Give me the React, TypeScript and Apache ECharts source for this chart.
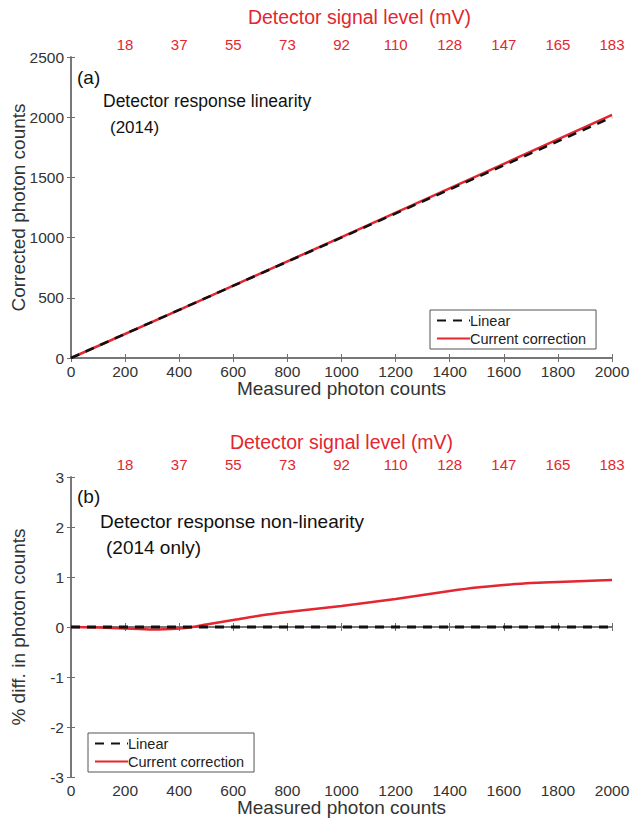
import React, { useEffect, useRef } from "react";
import * as echarts from "echarts";

// ---- data ----
const topLabels = ["18", "37", "55", "73", "92", "110", "128", "147", "165", "183"];
const linearX = [0, 2000];
const linearY = [0, 2000];
const measuredCounts = [0, 500, 1000, 1500, 2000];
const correctedCounts = [0, 500, 1004, 1511, 2019];
const diffX = [0, 100, 200, 300, 400, 450, 500, 600, 700, 800, 900, 1000, 1100, 1200, 1300, 1400, 1500, 1600, 1700, 1800, 1900, 2000];
const diffY = [0, -0.01, -0.03, -0.05, -0.03, 0, 0.05, 0.14, 0.23, 0.3, 0.36, 0.42, 0.49, 0.56, 0.64, 0.72, 0.79, 0.84, 0.88, 0.9, 0.92, 0.94];
const linearDiffX = [0, 2000];
const linearDiffY = [0, 0];

const FONT = "Liberation Sans, Arial, Helvetica, sans-serif";
const RED = "#e3262f";
const FRAME = "#6f6f6f";

export default function App() {
  const ref = useRef<HTMLDivElement>(null);
  useEffect(() => {
    if (!ref.current) return;
    const chart = echarts.init(ref.current, undefined, { renderer: "svg" });

    const bottomX = (gridIndex: number) => ({
      type: "value",
      gridIndex,
      position: "bottom",
      min: 0,
      max: 2000,
      interval: 200,
      name: "Measured photon counts",
      nameLocation: "middle",
      nameGap: 21,
      nameMoveOverlap: false,
      nameTextStyle: { fontSize: 19, color: "#333", fontFamily: FONT },
      axisLine: { show: true, lineStyle: { color: FRAME, width: 1.5 } },
      axisTick: { show: true, inside: true, length: 4, lineStyle: { color: FRAME } },
      axisLabel: { fontSize: 15.5, color: "#333", fontFamily: FONT, margin: 5, formatter: (v: number) => String(v) },
      splitLine: { show: false },
    });
    const topX = (gridIndex: number, gap: number, shift: number) => ({
      type: "value",
      gridIndex,
      position: "top",
      min: 0,
      max: 2000,
      interval: 200,
      name: "Detector signal level (mV)",
      nameLocation: "middle",
      nameGap: gap,
      nameMoveOverlap: false,
      nameTextStyle: { fontSize: 19.5, color: RED, fontFamily: FONT, padding: [0, 0, 0, shift] },
      axisLine: { show: true, lineStyle: { color: FRAME, width: 1.5 } },
      axisTick: { show: true, inside: true, length: 4, lineStyle: { color: FRAME } },
      axisLabel: {
        fontSize: 15,
        color: RED,
        fontFamily: FONT,
        margin: 5,
        formatter: (v: number) => (v === 0 ? "" : topLabels[Math.round(v / 200) - 1] ?? ""),
      },
      splitLine: { show: false },
    });
    const leftY = (gridIndex: number, min: number, max: number, interval: number, name: string) => ({
      type: "value",
      gridIndex,
      position: "left",
      min,
      max,
      interval,
      name,
      nameLocation: "middle",
      nameGap: 43,
      nameMoveOverlap: false,
      nameTextStyle: { fontSize: 19, color: "#333", fontFamily: FONT },
      axisLine: { show: true, lineStyle: { color: FRAME, width: 1.5 } },
      axisTick: { show: true, inside: true, length: 4, lineStyle: { color: FRAME } },
      axisLabel: { fontSize: 15.5, color: "#333", fontFamily: FONT, margin: 7, formatter: (v: number) => String(v) },
      splitLine: { show: false },
    });
    const rightY = (gridIndex: number, min: number, max: number, interval: number) => ({
      type: "value",
      gridIndex,
      position: "right",
      min,
      max,
      interval,
      axisLine: { show: true, lineStyle: { color: FRAME, width: 1.5 } },
      axisTick: { show: true, inside: true, length: 4, lineStyle: { color: FRAME } },
      axisLabel: { show: false },
      splitLine: { show: false },
    });

    const legend = (left: number, top: number) => ({
      left,
      top,
      orient: "vertical",
      data: ["Linear", "Current correction"],
      itemGap: 3,
      itemWidth: 33,
      itemHeight: 14,
      padding: [3, 10, 3, 6],
      borderColor: "#555",
      borderWidth: 1,
      backgroundColor: "#fff",
      itemStyle: { opacity: 0 },
      textStyle: { fontSize: 14.5, color: "#222", fontFamily: FONT, padding: [0, 0, 0, -5] },
      selectedMode: false,
    });

    const txt = (x: number, y: number, text: string, size: number) => ({
      type: "text",
      x,
      y,
      style: { text, fontSize: size, fontFamily: FONT, fill: "#111", textVerticalAlign: "middle" },
      z: 100,
    });

    chart.setOption({
      animation: false,
      backgroundColor: "#fff",
      grid: [
        { left: 71, top: 57, width: 541, height: 301, show: false, containLabel: false, outerBoundsMode: "none" },
        { left: 71, top: 477, width: 541, height: 300, show: false, containLabel: false, outerBoundsMode: "none" },
      ],
      xAxis: [bottomX(0), topX(0, 30, 36), bottomX(1), topX(1, 25, 0)],
      yAxis: [
        leftY(0, 0, 2500, 500, "Corrected photon counts"),
        rightY(0, 0, 2500, 500),
        leftY(1, -3, 3, 1, "% diff. in photon counts"),
        rightY(1, -3, 3, 1),
      ],
      legend: [legend(430, 310), legend(88, 733)],
      series: [
        {
          name: "Current correction",
          type: "line",
          xAxisIndex: 0,
          yAxisIndex: 0,
          data: measuredCounts.map((x, i) => [x, correctedCounts[i]]),
          symbol: "none",
          lineStyle: { color: RED, width: 2.5 },
          itemStyle: { color: RED },
        },
        {
          name: "Linear",
          type: "line",
          xAxisIndex: 0,
          yAxisIndex: 0,
          data: linearX.map((x, i) => [x, linearY[i]]),
          symbol: "none",
          lineStyle: { color: "#111", width: 2.5, type: [9, 7] },
          itemStyle: { color: "#111" },
        },
        {
          name: "Current correction",
          type: "line",
          xAxisIndex: 2,
          yAxisIndex: 2,
          data: diffX.map((x, i) => [x, diffY[i]]),
          symbol: "none",
          smooth: 0.25,
          lineStyle: { color: RED, width: 2.5 },
          itemStyle: { color: RED },
        },
        {
          name: "Linear",
          type: "line",
          xAxisIndex: 2,
          yAxisIndex: 2,
          data: linearDiffX.map((x, i) => [x, linearDiffY[i]]),
          symbol: "none",
          lineStyle: { color: "#111", width: 3, type: [9, 7] },
          itemStyle: { color: "#111" },
        },
      ],
      graphic: [
        txt(77, 77, "(a)", 19),
        txt(103, 101, "Detector response linearity", 17.5),
        txt(110, 127, "(2014)", 17),
        txt(77, 496, "(b)", 19),
        txt(100, 521, "Detector response non-linearity", 19),
        txt(106, 547, "(2014 only)", 19),
      ],
    });
    return () => chart.dispose();
  }, []);
  return <div ref={ref} style={{ position: "fixed", left: 0, top: 0, width: 632, height: 818 }} />;
}
